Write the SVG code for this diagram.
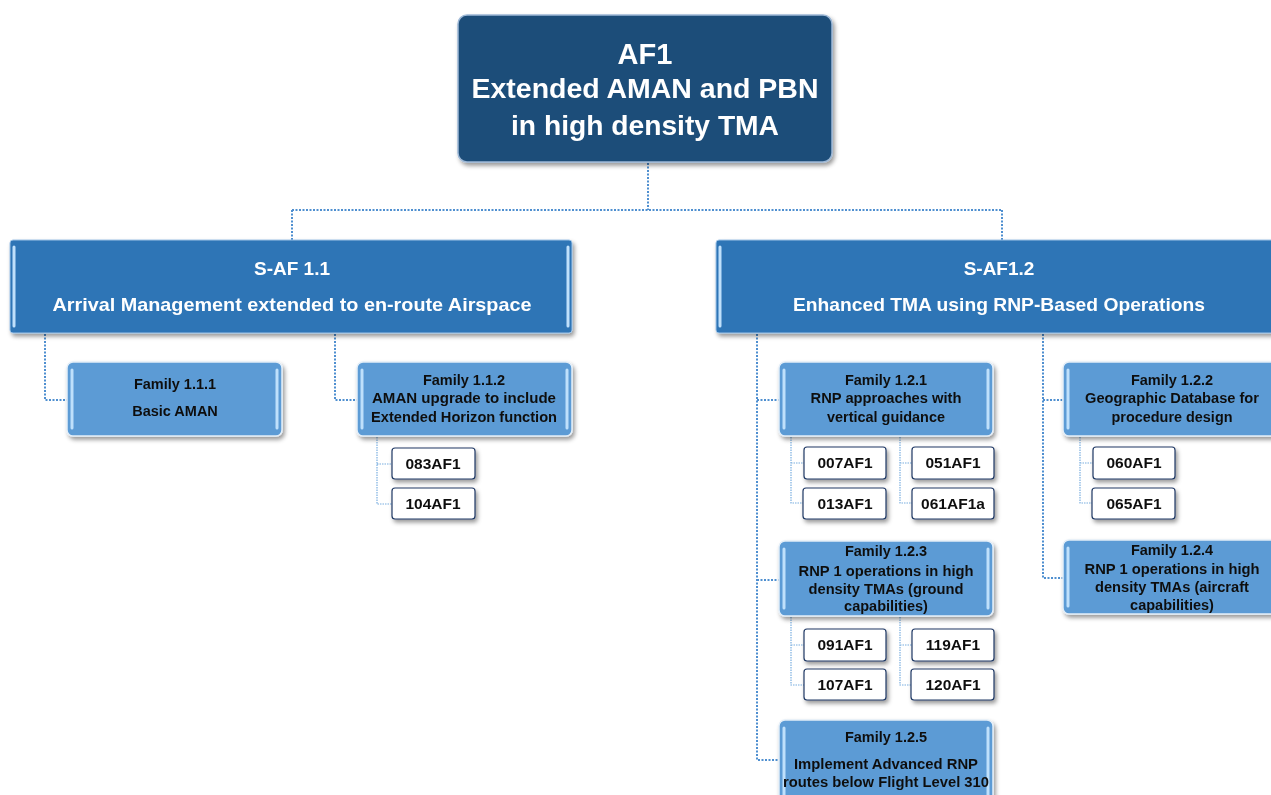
<svg xmlns="http://www.w3.org/2000/svg" width="1271" height="795" viewBox="0 0 1271 795">
<defs>
<filter id="sh" x="-10%" y="-10%" width="125%" height="140%">
<feDropShadow dx="2" dy="3" stdDeviation="2" flood-color="#000" flood-opacity="0.4"/>
</filter>
<style>
.top{fill:#1f4e79;stroke:#9db8d6;stroke-width:1.5}
.saf{fill:#2e75b6;stroke:#9ec3e6;stroke-width:1}
.fam{fill:#5b9bd5;stroke:#e3eef8;stroke-width:1.5}
.code{fill:#fff;stroke:#1f3864;stroke-width:1.2}
.hl{stroke:#bfe0fb;stroke-width:3;stroke-linecap:round}
.t{font-family:"Liberation Sans",Arial,sans-serif;font-weight:bold;text-anchor:middle}
.tw{fill:#fff}
.td{fill:#111;font-size:14.5px}
.tc{fill:#111;font-size:15.5px}
.c1{fill:none;stroke:#4f8fd0;stroke-width:2;stroke-dasharray:2 1.5}
.c2{fill:none;stroke:#7aaee0;stroke-width:1.2;stroke-dasharray:1.5 1}
</style>
</defs>
<g id="connectors">
<path class="c1" d="M648,163 V210 M292,210 H1002 M292,210 V240 M1002,210 V240"/>
<path class="c1" d="M45,334 V400 H67 M335,334 V400 H357"/>
<path class="c2" d="M377,437 V504 H392 M377,464 H392"/>
<path class="c1" d="M757,334 V760 H779 M757,400 H779 M757,580 H779"/>
<path class="c1" d="M1043,334 V578 H1063 M1043,400 H1063"/>
<path class="c2" d="M791,437 V503 H803 M791,463 H804 M900,437 V503 H912 M900,463 H912"/>
<path class="c2" d="M1080,437 V503 H1092 M1080,463 H1093"/>
<path class="c2" d="M791,617 V685 H804 M791,645 H804 M900,617 V685 H911 M900,645 H912"/>
</g>
<g id="af1" filter="url(#sh)">
<rect class="top" x="458" y="15" width="374" height="147" rx="9"/>
<text class="t tw" font-size="29" x="645" y="64">AF1</text>
<text class="t tw" font-size="28" x="645" y="98" textLength="347" lengthAdjust="spacingAndGlyphs">Extended AMAN and PBN</text>
<text class="t tw" font-size="28" x="645" y="135" textLength="268" lengthAdjust="spacingAndGlyphs">in high density TMA</text>
</g>
<g id="saf11" filter="url(#sh)">
<rect class="saf" x="10" y="240" width="562" height="93" rx="3"/>
<line class="hl" x1="14" y1="247" x2="14" y2="326" stroke-width="2"/>
<line class="hl" x1="568" y1="247" x2="568" y2="326" stroke-width="2"/>
<text class="t tw" font-size="19" x="292" y="275">S-AF 1.1</text>
<text class="t tw" font-size="19" x="292" y="311" textLength="479" lengthAdjust="spacingAndGlyphs">Arrival Management extended to en-route Airspace</text>
</g>
<g id="saf12" filter="url(#sh)">
<rect class="saf" x="716" y="240" width="570" height="93" rx="3"/>
<line class="hl" x1="720" y1="247" x2="720" y2="326" stroke-width="2"/>
<text class="t tw" font-size="19" x="999" y="275">S-AF1.2</text>
<text class="t tw" font-size="19" x="999" y="311" textLength="412" lengthAdjust="spacingAndGlyphs">Enhanced TMA using RNP-Based Operations</text>
</g>
<g id="f111" filter="url(#sh)">
<rect class="fam" x="67" y="362" width="215" height="74" rx="6"/>
<line class="hl" x1="72" y1="370" x2="72" y2="428"/>
<line class="hl" x1="277" y1="370" x2="277" y2="428"/>
<text class="t td" x="175" y="389">Family 1.1.1</text>
<text class="t td" x="175" y="416">Basic AMAN</text>
</g>
<g id="f112" filter="url(#sh)">
<rect class="fam" x="357" y="362" width="215" height="74" rx="6"/>
<line class="hl" x1="362" y1="370" x2="362" y2="428"/>
<line class="hl" x1="567" y1="370" x2="567" y2="428"/>
<text class="t td" x="464" y="385">Family 1.1.2</text>
<text class="t td" x="464" y="403" textLength="184" lengthAdjust="spacingAndGlyphs">AMAN upgrade to include</text>
<text class="t td" x="464" y="422" textLength="186" lengthAdjust="spacingAndGlyphs">Extended Horizon function</text>
</g>
<g id="c083" filter="url(#sh)"><rect class="code" x="392" y="448" width="83" height="31" rx="3"/><text class="t tc" x="433" y="469">083AF1</text></g>
<g id="c104" filter="url(#sh)"><rect class="code" x="392" y="488" width="83" height="31" rx="3"/><text class="t tc" x="433" y="509">104AF1</text></g>
<g id="f121" filter="url(#sh)">
<rect class="fam" x="779" y="362" width="214" height="74" rx="6"/>
<line class="hl" x1="784" y1="370" x2="784" y2="428"/>
<line class="hl" x1="988" y1="370" x2="988" y2="428"/>
<text class="t td" x="886" y="385">Family 1.2.1</text>
<text class="t td" x="886" y="403" textLength="151" lengthAdjust="spacingAndGlyphs">RNP approaches  with</text>
<text class="t td" x="886" y="422" textLength="118" lengthAdjust="spacingAndGlyphs">vertical guidance</text>
</g>
<g id="c007" filter="url(#sh)"><rect class="code" x="804" y="447" width="82" height="32" rx="3"/><text class="t tc" x="845" y="468">007AF1</text></g>
<g id="c013" filter="url(#sh)"><rect class="code" x="803" y="488" width="83" height="31" rx="3"/><text class="t tc" x="845" y="509">013AF1</text></g>
<g id="c051" filter="url(#sh)"><rect class="code" x="912" y="447" width="82" height="32" rx="3"/><text class="t tc" x="953" y="468">051AF1</text></g>
<g id="c061" filter="url(#sh)"><rect class="code" x="912" y="488" width="82" height="31" rx="3"/><text class="t tc" x="953" y="509">061AF1a</text></g>
<g id="f122" filter="url(#sh)">
<rect class="fam" x="1063" y="362" width="225" height="74" rx="6"/>
<line class="hl" x1="1068" y1="370" x2="1068" y2="428"/>
<text class="t td" x="1172" y="385">Family 1.2.2</text>
<text class="t td" x="1172" y="403" textLength="174" lengthAdjust="spacingAndGlyphs">Geographic Database for</text>
<text class="t td" x="1172" y="422" textLength="121" lengthAdjust="spacingAndGlyphs">procedure design</text>
</g>
<g id="c060" filter="url(#sh)"><rect class="code" x="1093" y="447" width="82" height="32" rx="3"/><text class="t tc" x="1134" y="468">060AF1</text></g>
<g id="c065" filter="url(#sh)"><rect class="code" x="1092" y="488" width="83" height="31" rx="3"/><text class="t tc" x="1134" y="509">065AF1</text></g>
<g id="f123" filter="url(#sh)">
<rect class="fam" x="779" y="541" width="214" height="75" rx="6"/>
<line class="hl" x1="784" y1="549" x2="784" y2="608"/>
<line class="hl" x1="988" y1="549" x2="988" y2="608"/>
<text class="t td" x="886" y="556">Family 1.2.3</text>
<text class="t td" x="886" y="576" textLength="175" lengthAdjust="spacingAndGlyphs">RNP 1 operations  in high</text>
<text class="t td" x="886" y="594" textLength="155" lengthAdjust="spacingAndGlyphs">density TMAs (ground</text>
<text class="t td" x="886" y="611">capabilities)</text>
</g>
<g id="c091" filter="url(#sh)"><rect class="code" x="804" y="629" width="82" height="32" rx="3"/><text class="t tc" x="845" y="650">091AF1</text></g>
<g id="c107" filter="url(#sh)"><rect class="code" x="804" y="669" width="82" height="31" rx="3"/><text class="t tc" x="845" y="690">107AF1</text></g>
<g id="c119" filter="url(#sh)"><rect class="code" x="912" y="629" width="82" height="32" rx="3"/><text class="t tc" x="953" y="650">119AF1</text></g>
<g id="c120" filter="url(#sh)"><rect class="code" x="911" y="669" width="83" height="31" rx="3"/><text class="t tc" x="953" y="690">120AF1</text></g>
<g id="f124" filter="url(#sh)">
<rect class="fam" x="1063" y="540" width="225" height="74" rx="6"/>
<line class="hl" x1="1068" y1="548" x2="1068" y2="606"/>
<text class="t td" x="1172" y="555">Family 1.2.4</text>
<text class="t td" x="1172" y="574" textLength="175" lengthAdjust="spacingAndGlyphs">RNP 1 operations  in high</text>
<text class="t td" x="1172" y="592" textLength="154" lengthAdjust="spacingAndGlyphs">density TMAs (aircraft</text>
<text class="t td" x="1172" y="610">capabilities)</text>
</g>
<g id="f125" filter="url(#sh)">
<rect class="fam" x="779" y="720" width="214" height="85" rx="6"/>
<line class="hl" x1="784" y1="728" x2="784" y2="800"/>
<line class="hl" x1="988" y1="728" x2="988" y2="800"/>
<text class="t td" x="886" y="742">Family 1.2.5</text>
<text class="t td" x="886" y="769" textLength="184" lengthAdjust="spacingAndGlyphs">Implement Advanced  RNP</text>
<text class="t td" x="886" y="787" textLength="206" lengthAdjust="spacingAndGlyphs">routes below Flight  Level 310</text>
</g>
</svg>
